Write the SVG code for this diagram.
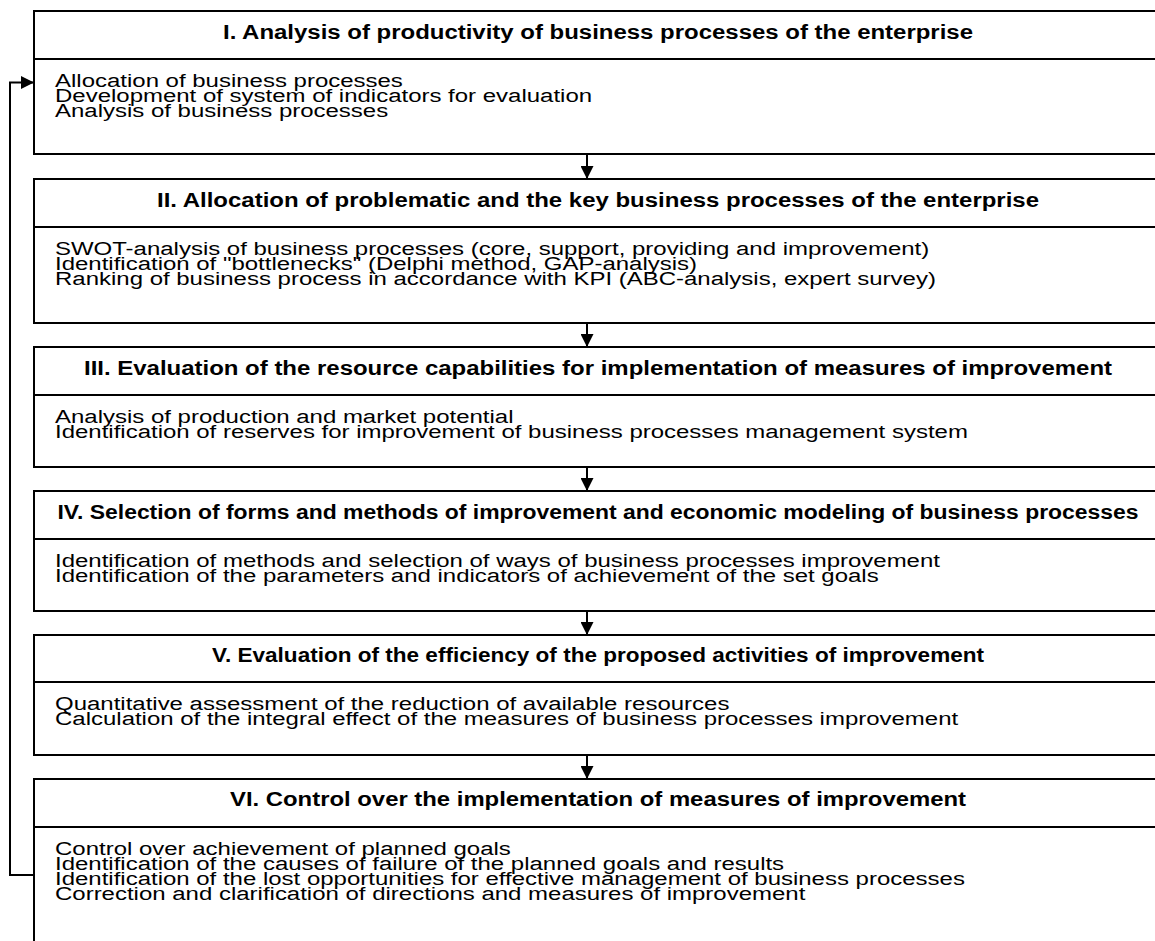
<svg xmlns="http://www.w3.org/2000/svg" width="1155" height="941" viewBox="0 0 1155 941">
  <defs>
    <marker id="arrow" markerUnits="userSpaceOnUse" markerWidth="13" markerHeight="13" refX="13" refY="6.5" orient="auto">
      <path d="M0,0 L13,6.5 L0,13 Z" fill="#000"/>
    </marker>
  </defs>
  <style>
    .box { fill: #fff; stroke: #000; stroke-width: 2; }
    .div { stroke: #000; stroke-width: 2; }
    .conn { fill: none; stroke: #000; stroke-width: 2; marker-end: url(#arrow); }
    .head { font-family: "Liberation Sans", Arial, sans-serif; font-weight: bold; font-size: 20px; fill: #000; text-anchor: middle; }
    .body { font-family: "Liberation Sans", Arial, sans-serif; font-size: 19px; fill: #000; }
  </style>
  <rect width="1155" height="941" fill="#fff"/>

  <!-- Stage I -->
  <g id="stage1">
    <rect class="box" x="34" y="11" width="1140" height="143"/>
    <line class="div" x1="34" y1="59" x2="1174" y2="59"/>
    <text class="head" x="598" y="39" textLength="750" lengthAdjust="spacingAndGlyphs">I. Analysis of productivity of business processes of the enterprise</text>
    <g transform="translate(55 0) scale(1.263 1)">
      <text class="body" x="0" y="87">Allocation of business processes</text>
      <text class="body" x="0" y="102">Development of system of indicators for evaluation</text>
      <text class="body" x="0" y="117">Analysis of business processes</text>
    </g>
  </g>

  <!-- Stage II -->
  <g id="stage2">
    <rect class="box" x="34" y="179" width="1140" height="144"/>
    <line class="div" x1="34" y1="227" x2="1174" y2="227"/>
    <text class="head" x="598" y="207" textLength="882" lengthAdjust="spacingAndGlyphs">II. Allocation of problematic and the key business processes of the enterprise</text>
    <g transform="translate(55 0) scale(1.263 1)">
      <text class="body" x="0" y="255">SWOT-analysis of business processes (core, support, providing and improvement)</text>
      <text class="body" x="0" y="270">Identification of "bottlenecks" (Delphi method, GAP-analysis)</text>
      <text class="body" x="0" y="285">Ranking of business process in accordance with KPI (ABC-analysis, expert survey)</text>
    </g>
  </g>

  <!-- Stage III -->
  <g id="stage3">
    <rect class="box" x="34" y="347" width="1140" height="120"/>
    <line class="div" x1="34" y1="395" x2="1174" y2="395"/>
    <text class="head" x="598" y="375" textLength="1028" lengthAdjust="spacingAndGlyphs">III. Evaluation of the resource capabilities for implementation of measures of improvement</text>
    <g transform="translate(55 0) scale(1.263 1)">
      <text class="body" x="0" y="423">Analysis of production and market potential</text>
      <text class="body" x="0" y="438">Identification of reserves for improvement of business processes management system</text>
    </g>
  </g>

  <!-- Stage IV -->
  <g id="stage4">
    <rect class="box" x="34" y="491" width="1140" height="120"/>
    <line class="div" x1="34" y1="539" x2="1174" y2="539"/>
    <text class="head" x="598" y="519" textLength="1081" lengthAdjust="spacingAndGlyphs">IV. Selection of forms and methods of improvement and economic modeling of business processes</text>
    <g transform="translate(55 0) scale(1.263 1)">
      <text class="body" x="0" y="567">Identification of methods and selection of ways of business processes improvement</text>
      <text class="body" x="0" y="582">Identification of the parameters and indicators of achievement of the set goals</text>
    </g>
  </g>

  <!-- Stage V -->
  <g id="stage5">
    <rect class="box" x="34" y="635" width="1140" height="120"/>
    <line class="div" x1="34" y1="682" x2="1174" y2="682"/>
    <text class="head" x="598" y="662" textLength="772" lengthAdjust="spacingAndGlyphs">V. Evaluation of the efficiency of the proposed activities of improvement</text>
    <g transform="translate(55 0) scale(1.263 1)">
      <text class="body" x="0" y="710">Quantitative assessment of the reduction of available resources</text>
      <text class="body" x="0" y="725">Calculation of the integral effect of the measures of business processes improvement</text>
    </g>
  </g>

  <!-- Stage VI -->
  <g id="stage6">
    <rect class="box" x="34" y="779" width="1140" height="200"/>
    <line class="div" x1="34" y1="827" x2="1174" y2="827"/>
    <text class="head" x="598" y="806" textLength="736" lengthAdjust="spacingAndGlyphs">VI. Control over the implementation of measures of improvement</text>
    <g transform="translate(55 0) scale(1.263 1)">
      <text class="body" x="0" y="855">Control over achievement of planned goals</text>
      <text class="body" x="0" y="870">Identification of the causes of failure of the planned goals and results</text>
      <text class="body" x="0" y="885">Identification of the lost opportunities for effective management of business processes</text>
      <text class="body" x="0" y="900">Correction and clarification of directions and measures of improvement</text>
    </g>
  </g>

  <!-- Connectors -->
  <g id="connectors">
    <line class="conn" x1="587" y1="154" x2="587" y2="179"/>
    <line class="conn" x1="587" y1="323" x2="587" y2="347"/>
    <line class="conn" x1="587" y1="467" x2="587" y2="491"/>
    <line class="conn" x1="587" y1="611" x2="587" y2="635"/>
    <line class="conn" x1="587" y1="755" x2="587" y2="779"/>
    <path class="conn" d="M34,875 H10 V82.5 H34"/>
  </g>
</svg>
